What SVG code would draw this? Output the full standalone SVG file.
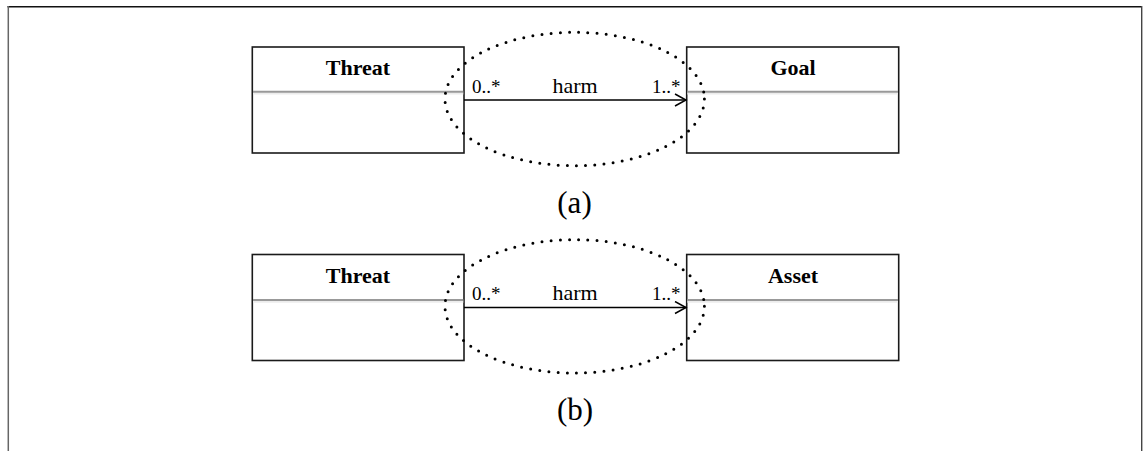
<svg xmlns="http://www.w3.org/2000/svg" width="1143" height="451" viewBox="0 0 1143 451">
<defs>
<style>
.box{fill:#fff;stroke:#1a1a1a;stroke-width:1.6}
.div{stroke:#999;stroke-width:2}
.div2{stroke:#ececec;stroke-width:2}
.name{font-family:"Liberation Serif",serif;font-weight:bold;font-size:22px;text-anchor:middle;fill:#000}
.lbl{font-family:"Liberation Serif",serif;font-size:22px;text-anchor:middle;fill:#000}
.mult{font-family:"Liberation Serif",serif;font-size:19px;fill:#000}
.cap{font-family:"Liberation Serif",serif;font-size:31px;text-anchor:middle;fill:#000}
.edge{stroke:#000;stroke-width:1.5;fill:none}
.oval{fill:none;stroke:#000;stroke-width:3;stroke-linecap:round;stroke-dasharray:0 9.2}
</style>
<marker id="open" markerWidth="14" markerHeight="14" refX="12" refY="7" orient="auto" markerUnits="userSpaceOnUse">
<path d="M1,1 L12,7 L1,13" fill="none" stroke="#000" stroke-width="1.5"/>
</marker>
</defs>
<rect width="1143" height="451" fill="#fff"/>
<g id="frame">
<line x1="7.5" y1="6.7" x2="1142" y2="6.7" stroke="#111" stroke-width="1.4"/>
<line x1="8.3" y1="6" x2="8.3" y2="451" stroke="#666" stroke-width="1.5"/>
<line x1="1141.7" y1="6" x2="1141.7" y2="451" stroke="#444" stroke-width="1.4"/>
</g>
<g id="threat-a">
<rect class="box" x="252.3" y="47" width="211.7" height="106"/>
<line class="div2" x1="253" y1="93.5" x2="463.3" y2="93.5"/>
<line class="div" x1="253" y1="91.7" x2="463.3" y2="91.7"/>
<text class="name" x="358" y="75">Threat</text>
</g>
<g id="goal-a">
<rect class="box" x="686.7" y="47" width="212" height="106"/>
<line class="div2" x1="687.4" y1="93.5" x2="898" y2="93.5"/>
<line class="div" x1="687.4" y1="91.7" x2="898" y2="91.7"/>
<text class="name" x="793" y="75">Goal</text>
</g>
<g id="threat-b">
<rect class="box" x="252.3" y="254.5" width="211.7" height="106"/>
<line class="div2" x1="253" y1="301.8" x2="463.3" y2="301.8"/>
<line class="div" x1="253" y1="300" x2="463.3" y2="300"/>
<text class="name" x="358" y="282.5">Threat</text>
</g>
<g id="asset-b">
<rect class="box" x="686.7" y="254.5" width="212" height="106"/>
<line class="div2" x1="687.4" y1="301.8" x2="898" y2="301.8"/>
<line class="div" x1="687.4" y1="300" x2="898" y2="300"/>
<text class="name" x="793" y="282.5">Asset</text>
</g>
<g id="connectors">
<line class="edge" x1="464" y1="100" x2="686" y2="100" marker-end="url(#open)"/>
<text class="mult" x="472" y="92.5">0..*</text>
<text class="lbl" x="575" y="92.7">harm</text>
<text class="mult" x="652" y="92.5">1..*</text>
<line class="edge" x1="464" y1="307.5" x2="686" y2="307.5" marker-end="url(#open)"/>
<text class="mult" x="472" y="300">0..*</text>
<text class="lbl" x="575" y="300.2">harm</text>
<text class="mult" x="652" y="300">1..*</text>
</g>
<g id="ovals">
<ellipse class="oval" cx="574.7" cy="99" rx="129.7" ry="66.7"/>
<ellipse class="oval" cx="574.7" cy="306.3" rx="129.7" ry="66.7"/>
</g>
<g id="captions">
<text class="cap" x="574.5" y="213">(a)</text>
<text class="cap" x="575" y="420">(b)</text>
</g>
</svg>
